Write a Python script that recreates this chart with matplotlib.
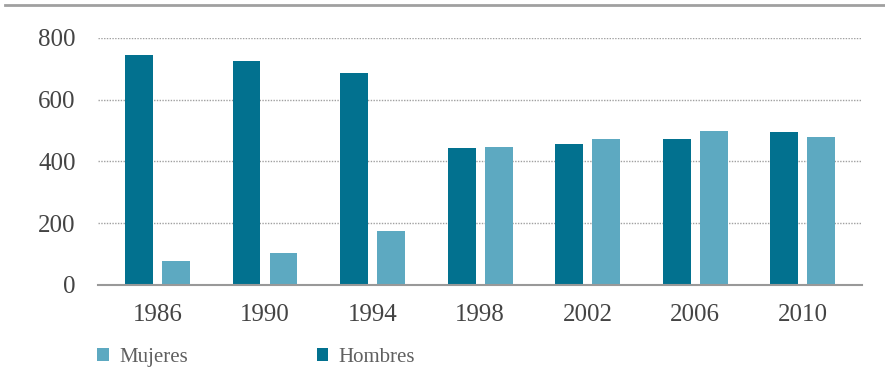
import numpy as np
import matplotlib.pyplot as plt
from matplotlib.lines import Line2D

years = ["1986", "1990", "1994", "1998", "2002", "2006", "2010"]
hombres = [745, 725, 685, 443, 456, 472, 495]
mujeres = [79, 105, 175, 446, 472, 498, 479]
yticks = [0, 200, 400, 600, 800]

c_hombres = "#02718f"
c_mujeres = "#5da9c1"
txt = "#444444"

plt.rcParams['font.family'] = ['Liberation Serif', 'DejaVu Serif']

fig = plt.figure(figsize=(8.85, 3.81), dpi=100)
ax = fig.add_axes([0.1107, 0.252, 0.863, 0.649])

x = np.arange(len(years))
w = 0.26
off = 0.172
ax.bar(x - off, hombres, w, color=c_hombres, label="Hombres", zorder=3)
ax.bar(x + off, mujeres, w, color=c_mujeres, label="Mujeres", zorder=3)

ax.set_xlim(-0.553, 6.548)
ax.set_ylim(0, 800)
ax.set_yticks(yticks)
ax.set_yticklabels([str(v) for v in yticks], fontsize=18, color=txt)
ax.set_xticks(x)
ax.set_xticklabels(years, fontsize=18, color=txt)
ax.tick_params(axis='y', length=0, pad=16)
ax.tick_params(axis='x', length=0, pad=14)

ax.grid(axis='y', color='#a0a0a0', linestyle=(0, (1, 1)), linewidth=1, zorder=0)
for s in ['top', 'right', 'left']:
    ax.spines[s].set_visible(False)
ax.spines['bottom'].set_color('#999999')
ax.spines['bottom'].set_linewidth(1.5)
ax.spines['bottom'].set_zorder(4)

# line along the top of the figure
fig.add_artist(Line2D([5 / 885, 1], [1 - 5 / 381, 1 - 5 / 381],
                      color='#a0a0a0', linewidth=2))

handles, labels = ax.get_legend_handles_labels()
leg = fig.legend(handles[::-1], labels[::-1], loc='center left',
                 bbox_to_anchor=(0.098, 0.062), ncol=2, frameon=False,
                 fontsize=15, handlelength=0.55, handleheight=0.55,
                 handletextpad=0.5, columnspacing=6.2, borderpad=0)
for t in leg.get_texts():
    t.set_color('#606060')

fig.savefig("out.png", dpi=100, facecolor='white')
